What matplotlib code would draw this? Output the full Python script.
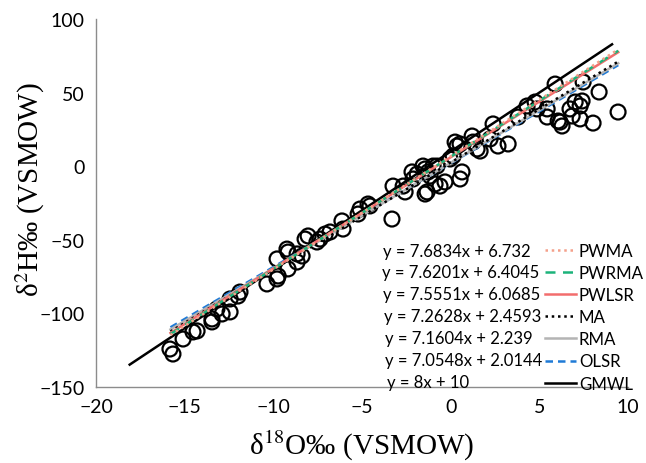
import matplotlib
matplotlib.use("Agg")
import matplotlib.pyplot as plt
import numpy as np

# observed points (d18O, d2H)
d18O = [-15.83, -15.66, -15.09, -14.53, -14.30, -13.46, -13.46, -13.18, -12.89, -12.44,
        -12.44, -11.88, -11.99, -10.36, -9.79, -9.73, -9.79, -9.17, -9.17, -8.66,
        -8.38, -8.21, -9.23, -8.66, -8.04, -7.54, -7.37, -7.08, -6.80, -6.13,
        -6.07, -5.11, -5.22, -4.66, -4.55, -3.31, -3.25, -2.68, -2.57, -2.12,
        -1.89, -2.18, -1.56, -1.44, -1.44, -1.27, -1.16, -1.33, -0.99, -0.77,
        -0.88, -0.60, -0.32, -0.03, 0.14, 0.25, 0.36, 0.53, 0.64, 0.53,
        1.21, 1.26, 1.49, 1.66, 2.22, 2.39, 2.67, 3.24, 3.80, 4.31,
        4.76, 4.87, 5.44, 5.44, 6.06, 5.89, 6.17, 6.28, 6.73, 6.85,
        7.02, 7.41, 7.30, 7.47, 7.30, 8.03, 9.44, 8.37]
d2H = [-124.2, -127.6, -117.4, -112.6, -111.9, -105.8, -103.8, -97.0, -100.4, -99.0,
       -90.2, -85.5, -88.2, -80.0, -76.6, -74.6, -63.0, -69.8, -58.3, -65.1,
       -61.0, -49.5, -56.3, -59.6, -47.4, -51.5, -49.5, -46.1, -44.7, -37.2,
       -42.7, -29.1, -32.5, -25.7, -27.0, -35.9, -13.5, -13.5, -17.5, -8.7,
       -5.3, -3.9, 0.1, -1.9, -18.9, -3.9, -6.7, -17.5, 0.1, 0.1,
       -12.1, -13.5, -10.7, 4.9, 6.9, 16.4, 13.7, 15.1, -3.9, -8.7,
       20.5, 16.4, 11.7, 10.3, 18.5, 28.7, 13.7, 15.1, 33.4, 40.9,
       43.6, 38.9, 38.9, 33.4, 30.7, 55.8, 30.0, 27.3, 38.9, 34.1,
       43.6, 44.3, 40.9, 57.2, 32.1, 29.3, 36.8, 50.4]

# fitted lines
names = ["PWMA", "PWRMA", "PWLSR", "MA", "RMA", "OLSR", "GMWL"]
slopes = [7.6834, 7.6201, 7.5551, 7.2628, 7.1604, 7.0548, 8.0]
intercepts = [6.732, 6.4045, 6.0685, 2.4593, 2.239, 2.0144, 10.0]
equations = ["y = 7.6834x + 6.732", "y = 7.6201x + 6.4045", "y = 7.5551x + 6.0685",
             "y = 7.2628x + 2.4593", "y = 7.1604x + 2.239", "y = 7.0548x + 2.0144",
             "y = 8x + 10"]
fit_range = [-15.8, 9.45]
gmwl_range = [-18.1, 9.1]

colors = ["#f4a08a", "#1cb37a", "#f26d6d", "#000000", "#b4b4b4", "#1f7ad6", "#000000"]
styles = [(0, (1, 1.5)), (0, (4, 3)), "-", (0, (1, 1.5)), "-", (0, (3, 2)), "-"]

plt.rcParams["mathtext.fontset"] = "stix"
W, H = 646, 464
fig = plt.figure(figsize=(W / 100, H / 100), dpi=100)
ax = fig.add_axes([96 / W, 1 - 388 / H, (628 - 96) / W, (388 - 20) / H])

ax.scatter(d18O, d2H, s=115, facecolors="none", edgecolors="black", linewidths=1.6, zorder=2)

handles = []
for i, (n, m, b, c, ls) in enumerate(zip(names, slopes, intercepts, colors, styles)):
    xr = np.array(gmwl_range if n == "GMWL" else fit_range)
    h, = ax.plot(xr, m * xr + b, color=c, linestyle=ls, linewidth=1.8, label=n,
                 zorder=3 + len(names) - i)
    handles.append(h)

ax.set_xlim(-20, 10)
ax.set_ylim(-150, 100)
ax.set_xticks(np.arange(-20, 11, 5))
ax.set_yticks(np.arange(-150, 101, 50))
for s in ["top", "right"]:
    ax.spines[s].set_visible(False)
for s in ["left", "bottom"]:
    ax.spines[s].set_color("#8c8c8c")
    ax.spines[s].set_linewidth(1.0)
ax.tick_params(length=0, labelsize=14, pad=8)
for lab in ax.get_xticklabels() + ax.get_yticklabels():
    lab.set_fontfamily("Lato")

ax.set_xlabel("δ$^{18}$O‰ (VSMOW)", fontsize=21, family="Liberation Serif")
ax.set_ylabel("δ$^{2}$H‰ (VSMOW)", fontsize=21, family="Liberation Serif")
ax.xaxis.set_label_coords(0.5, -(429 - 388) / (388 - 20))
ax.yaxis.set_label_coords(-(96 - 47) / (628 - 96), (388 - 190) / (388 - 20))

rows = [252, 273, 295, 317, 339, 361, 383]
xs = [383, 382, 383, 384, 385, 385, 387]
for eq, r, xx in zip(equations, rows, xs):
    fig.text(xx / W, 1 - r / H, eq, fontsize=12, family="Lato", va="center", ha="left")

leg = ax.legend(handles=handles, loc="upper left",
                bbox_to_anchor=(545 / W, 1 - 244 / H), bbox_transform=fig.transFigure,
                frameon=False, prop={"family": "Lato", "size": 12.2},
                handlelength=1.8, handletextpad=0.2, labelspacing=0.36,
                borderpad=0, borderaxespad=0)

fig.savefig("out.png", dpi=100)
